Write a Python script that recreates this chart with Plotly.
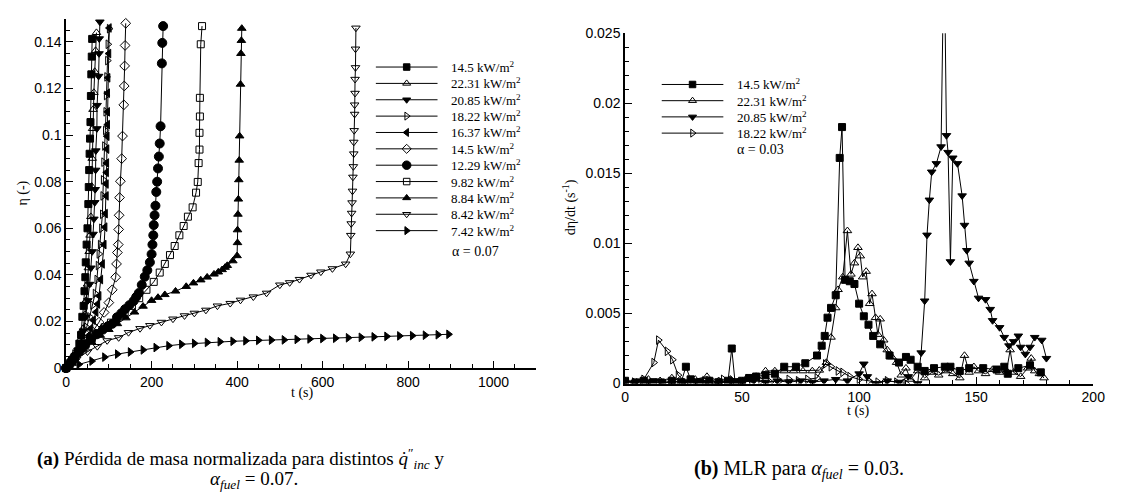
import plotly.graph_objects as go

# ---------------- Left panel data: normalized mass loss eta(t) ----------------
labels_left = ["14.5 kW/m<sup>2</sup>", "22.31 kW/m<sup>2</sup>", "20.85 kW/m<sup>2</sup>",
               "18.22 kW/m<sup>2</sup>", "16.37 kW/m<sup>2</sup>", "14.5 kW/m<sup>2</sup>",
               "12.29 kW/m<sup>2</sup>", "9.82 kW/m<sup>2</sup>", "8.84 kW/m<sup>2</sup>",
               "8.42 kW/m<sup>2</sup>", "7.42 kW/m<sup>2</sup>"]

t_a1 = [0, 8, 15, 22, 27, 31, 35, 38, 41, 43, 45, 46, 48, 50, 52, 53, 54, 55, 56, 57, 58, 59, 60, 61]
e_a1 = [0, 0.0015, 0.003, 0.005, 0.0072, 0.0105, 0.0142, 0.022, 0.0267, 0.033, 0.039, 0.0454,
        0.053, 0.06, 0.0704, 0.0777, 0.085, 0.092, 0.0985, 0.1056, 0.1168, 0.1261, 0.1337, 0.1413]

t_a2 = [0, 8, 16, 24, 30, 35, 40, 44, 47, 50, 52, 54, 56, 58, 60, 61, 62, 63, 65, 67, 69, 71]
e_a2 = [0, 0.0018, 0.0038, 0.006, 0.009, 0.0125, 0.017, 0.023, 0.029, 0.036, 0.043, 0.05,
        0.057, 0.065, 0.078, 0.09, 0.1028, 0.111, 0.1183, 0.1273, 0.1363, 0.144]

t_a3 = [0, 10, 20, 28, 35, 41, 46, 51, 55, 58, 61, 63, 65, 67, 68, 69, 69.5, 72, 72.5, 76, 77, 77.5, 79]
e_a3 = [0, 0.002, 0.0045, 0.0075, 0.011, 0.016, 0.022, 0.029, 0.036, 0.043, 0.05, 0.0575,
        0.064, 0.0711, 0.0767, 0.085, 0.0933, 0.1028, 0.1128, 0.1253, 0.135, 0.1414, 0.1486]

t_a4 = [0, 10, 20, 30, 40, 48, 55, 62, 68, 72, 75, 77, 80, 83, 85, 86, 87, 88, 90, 92, 93, 94, 95, 97, 98, 101]
e_a4 = [0, 0.003, 0.006, 0.0095, 0.0135, 0.0175, 0.022, 0.027, 0.032, 0.038, 0.044, 0.049,
        0.053, 0.06, 0.066, 0.0739, 0.0808, 0.0884, 0.0953, 0.102, 0.11, 0.117, 0.125, 0.132, 0.139, 0.1457]

t_a5 = [0, 12, 24, 35, 46, 53, 58, 64, 70, 74, 77, 81, 85, 89, 91, 92, 94, 94, 94.5, 95,
        95.5, 96, 97, 97, 97, 98, 100, 101]
e_a5 = [0, 0.0025, 0.005, 0.0075, 0.011, 0.014, 0.017, 0.0205, 0.024, 0.0275, 0.031, 0.038,
        0.0447, 0.053, 0.0605, 0.0663, 0.0739, 0.079, 0.084, 0.088, 0.094, 0.0995, 0.1045,
        0.110, 0.118, 0.1246, 0.135, 0.146]

t_a6 = [0, 15, 31, 46, 62, 77, 89, 100, 108, 116, 118, 120, 122, 123, 124, 125, 127, 130,
        132, 135, 136, 137, 138, 139.5]
e_a6 = [0, 0.003, 0.0072, 0.0114, 0.0156, 0.0197, 0.0239, 0.0281, 0.0336, 0.039, 0.0447,
        0.0496, 0.053, 0.0595, 0.0656, 0.0732, 0.0802, 0.0899, 0.0996, 0.113, 0.1211, 0.1297,
        0.1385, 0.148]

t_a7 = [0, 10, 20, 32, 45, 58, 72, 86, 98, 108, 119, 129, 138, 148, 158, 164, 170, 177, 184,
        190, 196, 200, 202, 204, 205, 207, 209, 211, 213, 215, 217, 219, 221, 224, 225, 227]
e_a7 = [0, 0.0025, 0.005, 0.0075, 0.01, 0.0125, 0.0145, 0.0165, 0.018, 0.019, 0.0218, 0.0235,
        0.0253, 0.027, 0.0288, 0.0305, 0.0322, 0.0357, 0.0392, 0.042, 0.0454, 0.0489, 0.053,
        0.057, 0.0614, 0.0656, 0.0697, 0.0756, 0.08, 0.0857, 0.0908, 0.0964, 0.1038, 0.1308,
        0.1396, 0.1468]

t_a8 = [0, 15, 30, 45, 60, 75, 90, 105, 120, 137, 154, 171, 188, 205, 219, 231, 243, 254,
        265, 275, 285, 296, 304, 308, 310, 312, 312, 313, 313, 315, 318]
e_a8 = [0, 0.0035, 0.007, 0.01, 0.0125, 0.015, 0.0175, 0.0195, 0.0215, 0.024, 0.0267, 0.03,
        0.0336, 0.037, 0.041, 0.0447, 0.0485, 0.0524, 0.057, 0.061, 0.065, 0.069, 0.0753,
        0.0799, 0.088, 0.0938, 0.101, 0.108, 0.116, 0.139, 0.1468]

t_a9 = [0, 20, 40, 60, 80, 100, 120, 140, 160, 180, 200, 215, 231, 256, 281, 298, 315, 330,
        346, 356, 365, 372, 377, 390, 400, 401, 401, 402, 403, 404, 405, 406, 408, 409, 410, 411]
e_a9 = [0, 0.0045, 0.008, 0.011, 0.014, 0.0165, 0.019, 0.0215, 0.024, 0.0265, 0.029, 0.0303,
        0.0315, 0.033, 0.035, 0.0365, 0.0378, 0.039, 0.0403, 0.0412, 0.0422, 0.0432, 0.044,
        0.046, 0.0482, 0.0538, 0.0593, 0.066, 0.0725, 0.0808, 0.0892, 0.0996, 0.1218, 0.135,
        0.1406, 0.1458]

t_a10 = [0, 25, 50, 73, 96, 123, 146, 173, 196, 223, 250, 277, 300, 327, 354, 384, 408, 438,
         469, 500, 523, 546, 573, 596, 623, 654, 665, 666, 667, 668, 669, 670, 671, 672, 673,
         673, 674, 675, 675, 676, 676, 677, 677, 678]
e_a10 = [0, 0.004, 0.007, 0.0093, 0.0118, 0.0131, 0.0153, 0.017, 0.0183, 0.0197, 0.0211,
         0.0225, 0.0236, 0.0249, 0.0267, 0.0278, 0.0292, 0.0306, 0.0322, 0.0357, 0.0367,
         0.0381, 0.0399, 0.0413, 0.0427, 0.0447, 0.049, 0.057, 0.062, 0.0665, 0.071, 0.076,
         0.082, 0.0865, 0.092, 0.097, 0.102, 0.109, 0.113, 0.118, 0.124, 0.129, 0.137, 0.146]

t_a11 = [0, 30, 60, 90, 120, 150, 180, 210, 240, 270, 300, 330, 360, 390, 420, 450, 480, 510,
         540, 570, 600, 630, 660, 690, 720, 750, 780, 810, 840, 870, 895]
e_a11 = [0, 0.0016, 0.003, 0.0047, 0.006, 0.0069, 0.0078, 0.0088, 0.0096, 0.0102, 0.0106,
         0.011, 0.0113, 0.0115, 0.0117, 0.0119, 0.012, 0.0121, 0.0123, 0.0125, 0.0127, 0.0128,
         0.013, 0.0132, 0.0134, 0.0136, 0.0138, 0.0139, 0.0141, 0.0143, 0.0145]

# ---------------- Right panel data: MLR d(eta)/dt ----------------
labels_right = ["14.5 kW/m<sup>2</sup>", "22.31 kW/m<sup>2</sup>",
                "20.85 kW/m<sup>2</sup>", "18.22 kW/m<sup>2</sup>"]

t_b1 = [0, 4, 8, 12, 16, 20, 24, 26, 28, 32, 36, 40, 44, 45.6, 47, 50, 53, 56, 60, 64, 68,
        73, 77, 82, 84, 85.3, 86.5, 88, 90, 91.7, 92.7, 94, 96, 98, 100, 102, 104, 106, 109,
        113, 117, 120, 122, 125, 128, 132, 136.6, 139, 143, 147, 153, 158.7, 162, 163.5, 168,
        173, 177.6]
m_b1 = [0.0002, 0.0, 0.0002, 0.0001, 0.0, 0.0002, 0.0001, 0.0012, 0.0003, 0.0001, 0.0002,
        0.0001, 0.0002, 0.0025, 0.0001, 0.0002, 0.0004, 0.0005, 0.0006, 0.0007, 0.0012,
        0.0012, 0.00145, 0.002, 0.0027, 0.0034, 0.0047, 0.0054, 0.0063, 0.0161, 0.0183,
        0.0074, 0.0073, 0.0071, 0.0057, 0.0048, 0.0042, 0.0034, 0.0028, 0.002, 0.0015,
        0.0019, 0.0017, 0.0012, 0.0009, 0.0011, 0.0012, 0.0012, 0.0009, 0.0011, 0.0011,
        0.001, 0.0012, 0.0007, 0.0011, 0.0013, 0.0008]

t_b2 = [0, 5, 10, 15, 20, 25, 30, 35, 40, 45, 48, 52, 56, 60, 64, 68, 72, 76, 80, 83, 86,
        88, 90, 91, 93, 95, 96.5, 98, 99.5, 100.5, 101.5, 103, 104.5, 105.5, 107, 108, 109,
        110.5, 112, 114, 116, 118, 120, 122, 125, 128, 131, 134, 137, 140, 143, 145, 147,
        149, 151, 154, 157, 160, 163, 164.5, 166, 169, 172, 173.5, 175, 177, 179]
m_b2 = [0.0002, 0.0001, 0.0003, 0.0002, 0.0004, 0.0001, 0.0003, 0.0005, 0.0002, 0.0003,
        0.0001, 0.0004, 0.0005, 0.0009, 0.0009, 0.0009, 0.0009, 0.0009, 0.0009, 0.00095,
        0.0015, 0.0033, 0.0054, 0.0067, 0.0076, 0.0109, 0.0078, 0.0086, 0.0097, 0.0091,
        0.0076, 0.008, 0.0057, 0.0064, 0.0047, 0.0035, 0.0046, 0.0031, 0.0024, 0.0019,
        0.0015, 0.0006, 0.0011, 0.0003, 0.0009, 0.0004, 0.0008, 0.0006, 0.0009, 0.0007,
        0.0004, 0.002, 0.0008, 0.0012, 0.0009, 0.0007, 0.001, 0.0008, 0.0009, 0.0024,
        0.0008, 0.0005, 0.0011, 0.0018, 0.0009, 0.0007, 0.0004]

t_b3 = [0, 5, 10, 15, 20, 25, 30, 35, 40, 45, 50, 55, 60, 65, 70, 75, 80, 85, 90, 95, 100,
        102, 103.5, 107, 112, 117, 121, 125, 126.5, 128, 129, 130, 131, 133, 135, 136.3,
        137.3, 138, 139, 140, 142, 144, 145, 146, 147, 149, 151, 154, 156, 157, 160, 162,
        164, 166, 168, 169, 171, 173, 175, 178, 180]
m_b3 = [0.0001, 0.0002, 0.0001, 0.0002, 0.0, 0.0001, 0.0002, 0.0001, 0.0, 0.0002, 0.0001,
        0.0002, 0.0001, 0.0002, 0.0001, 0.0002, 0.0001, 0.0002, 0.0003, 0.0002, 0.0007,
        0.0014, 0.0005, 0.0, 0.0002, 0.0001, 0.0005, 0.0, 0.0022, 0.0059, 0.0106, 0.0131,
        0.0151, 0.0157, 0.0169, 0.032, 0.0177, 0.0165, 0.0087, 0.0161, 0.0157, 0.0134,
        0.0113, 0.0095, 0.0086, 0.0073, 0.0061, 0.006, 0.0053, 0.0045, 0.004, 0.0033,
        0.0027, 0.003, 0.0034, 0.0026, 0.0021, 0.0026, 0.0033, 0.0031, 0.0018]

t_b4 = [0, 4, 8, 12.3, 14.3, 18, 20.3, 22.7, 26.7, 30, 34, 38, 42, 46, 50, 54, 58, 62, 66,
        70, 74, 78, 82, 85.6, 88, 91, 93, 96, 100, 104, 108, 112, 116, 120]
m_b4 = [0.0002, 0.0001, 0.0003, 0.0015, 0.0031, 0.0023, 0.0017, 0.0006, 0.0, 0.0001,
        0.0002, 0.0, 0.0003, 0.0002, 0.0001, 0.0003, 0.0002, 0.0001, 0.0002, 0.0003, 0.0002,
        0.0003, 0.0004, 0.0014, 0.0012, 0.0009, 0.0008, 0.0005, 0.0003, 0.0002, 0.0001,
        0.0002, 0.0001, 0.0]

left_series = [(t_a1, e_a1), (t_a2, e_a2), (t_a3, e_a3), (t_a4, e_a4), (t_a5, e_a5),
               (t_a6, e_a6), (t_a7, e_a7), (t_a8, e_a8), (t_a9, e_a9), (t_a10, e_a10),
               (t_a11, e_a11)]
right_series = [(t_b1, m_b1), (t_b2, m_b2), (t_b3, m_b3), (t_b4, m_b4)]

left_symbols = ["square", "triangle-up-open", "triangle-down", "triangle-right-open",
                "triangle-left", "diamond-open", "circle", "square-open", "triangle-up",
                "triangle-down-open", "triangle-right"]
left_sizes = [7, 7.5, 7.5, 7.5, 7.5, 7.5, 9, 7, 7.5, 7.5, 7.5]
right_symbols = ["square", "triangle-up-open", "triangle-down", "triangle-right-open"]
right_sizes = [7, 7.5, 7.5, 7.5]

SERIF = "Liberation Serif"
SANS = "Liberation Sans"
W, H = 1122, 499


def px_x(p):
    return p / W


def px_y(p):
    return 1 - p / H


fig = go.Figure()

line_style = dict(color="black", width=1)


def mk(sym, sz):
    return dict(symbol=sym, size=sz, color="black", line=dict(color="black", width=1))


for (tt, ee), name, sym, sz in zip(left_series, labels_left, left_symbols, left_sizes):
    assert len(tt) == len(ee), name
    fig.add_trace(go.Scatter(x=tt, y=ee, name=name, mode="lines+markers", xaxis="x", yaxis="y",
                             line=line_style, marker=mk(sym, sz), cliponaxis=False,
                             showlegend=False))

for (tt, mm), name, sym, sz in zip(right_series, labels_right, right_symbols, right_sizes):
    assert len(tt) == len(mm), name
    fig.add_trace(go.Scatter(x=tt, y=mm, name=name, mode="lines+markers", xaxis="x2", yaxis="y2",
                             line=line_style, marker=mk(sym, sz), cliponaxis=True,
                             showlegend=False))

# ---- legend keys (drawn on their own hidden axes, one row per series) ----
ann = []


def legend_block(labels, symbols, sizes, xa, ya):
    for row, (name, sym, sz) in enumerate(zip(labels, symbols, sizes)):
        fig.add_trace(go.Scatter(x=[0, 1], y=[row, row], mode="lines", xaxis=xa, yaxis=ya,
                                 line=line_style, showlegend=False, hoverinfo="skip"))
        fig.add_trace(go.Scatter(x=[0.5], y=[row], mode="markers", xaxis=xa, yaxis=ya,
                                 marker=mk(sym, sz - 0.5), cliponaxis=False,
                                 showlegend=False, hoverinfo="skip"))
        ann.append(dict(text=name, x=1, y=row, xref=xa, yref=ya, xanchor="left",
                        yanchor="middle", xshift=11, showarrow=False,
                        font=dict(family=SERIF, size=13, color="black")))


legend_block(labels_left, left_symbols, left_sizes, "x3", "y3")
legend_block(labels_right, right_symbols, right_sizes, "x4", "y4")

axis_common = dict(showline=True, linecolor="black", linewidth=1.5, showgrid=False,
                   zeroline=False, ticks="inside", ticklen=7, tickwidth=1.2, tickcolor="black",
                   tickfont=dict(family=SANS, size=14, color="black"),
                   mirror=False, fixedrange=True)
hidden = dict(visible=False, showgrid=False, zeroline=False, fixedrange=True)


def minor(d):
    return dict(ticks="inside", ticklen=4, tickwidth=1, tickcolor="black", dtick=d)


ROW_L, TOP_L = 16.9, 61      # left legend: row spacing and first-row centre (px)
ROW_R, TOP_R = 16.75, 79     # right legend
nL, nR = len(labels_left), len(labels_right)

fig.update_layout(
    width=W, height=H, autosize=False,
    margin=dict(l=0, r=0, t=0, b=0),
    paper_bgcolor="white", plot_bgcolor="white",
    showlegend=False,
    xaxis=dict(domain=[px_x(63), px_x(540)], range=[0, 1100], dtick=200, tick0=0,
               anchor="y", minor=minor(50), **axis_common),
    yaxis=dict(domain=[px_y(372), px_y(11)], range=[0, 0.15], dtick=0.02, tick0=0,
               anchor="x", minor=minor(0.005), **axis_common),
    xaxis2=dict(domain=[px_x(630), px_x(1105)], range=[0, 200], dtick=50, tick0=0,
                anchor="y2", minor=minor(10), **axis_common),
    yaxis2=dict(domain=[px_y(388), px_y(26)], range=[0, 0.025], dtick=0.005, tick0=0,
                anchor="x2", minor=minor(0.001), **axis_common),
    xaxis3=dict(domain=[px_x(377), px_x(440)], range=[0, 1], anchor="y3", **hidden),
    yaxis3=dict(domain=[px_y(TOP_L + ROW_L * (nL - 0.5)), px_y(TOP_L - ROW_L / 2)],
                range=[nL - 0.5, -0.5], anchor="x3", **hidden),
    xaxis4=dict(domain=[px_x(667), px_x(730)], range=[0, 1], anchor="y4", **hidden),
    yaxis4=dict(domain=[px_y(TOP_R + ROW_R * (nR - 0.5)), px_y(TOP_R - ROW_R / 2)],
                range=[nR - 0.5, -0.5], anchor="x4", **hidden),
)


def note(text, xp, yp, size=14, xanchor="center", angle=0):
    return dict(text=text, x=px_x(xp), y=px_y(yp), xref="paper", yref="paper",
                xanchor=xanchor, yanchor="middle", textangle=angle, showarrow=False,
                font=dict(family=SERIF, size=size, color="black"))


ann += [
    note("t (s)", 303, 398),
    note("t (s)", 867, 416),
    note("η (-)", 19, 191, angle=-90),
    note("dη/dt (s<sup>-1</sup>)", 574, 206, angle=-90),
    note("α = 0.07", 452, 252, size=14, xanchor="left"),
    note("α = 0.03", 742, 146, size=14, xanchor="left"),
    note("<b>(a)</b> Pérdida de masa normalizada para distintos <i>q̇</i><sup>″</sup><sub><i>inc</i></sub> y",
         240, 465, size=19),
    note("<i>α<sub>fuel</sub></i> = 0.07.", 254, 488, size=19),
    note("<b>(b)</b> MLR para <i>α<sub>fuel</sub></i> = 0.03.", 806, 477, size=20),
]
fig.update_layout(annotations=ann)

fig.write_html("out.html")
